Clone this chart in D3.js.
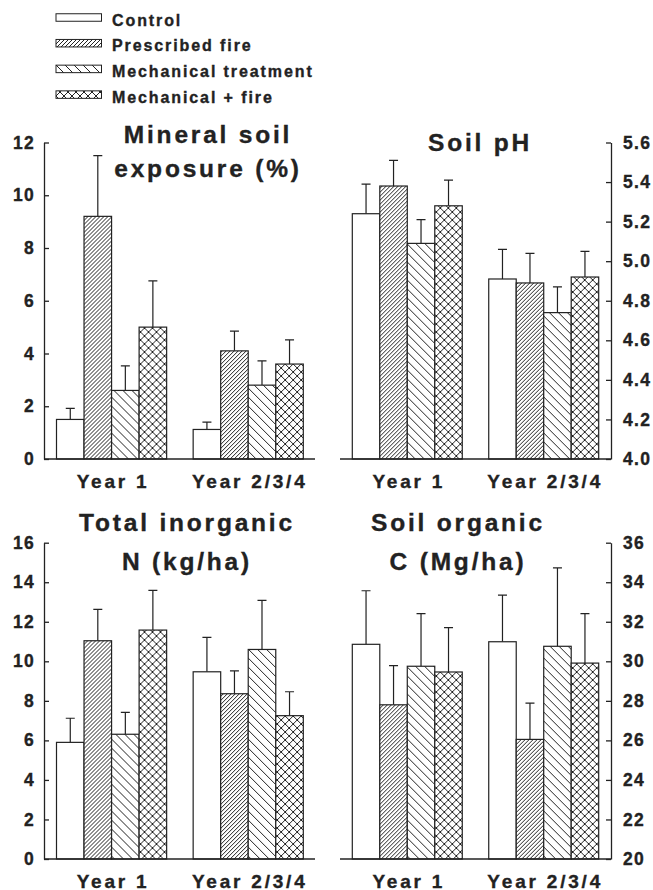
<!DOCTYPE html>
<html>
<head>
<meta charset="utf-8">
<script src="https://cdn.jsdelivr.net/npm/d3@7"></script>
<style>
  body { margin: 0; background: #fff; }
  text { font-family: "Liberation Sans", Arial, sans-serif; font-weight: bold; fill: #222; stroke: #222; stroke-width: 0.35px; }
</style>
</head>
<body>
<div id="chart"></div>
<script>
const years = ["Year 1", "Year 2/3/4"];
const treatments = ["Control", "Prescribed fire", "Mechanical treatment", "Mechanical + fire"];

// means and standard errors, [year][treatment]
const mineralMean = [[1.5, 9.2, 2.6, 5.0], [1.12, 4.1, 2.8, 3.6]];
const mineralSE   = [[0.42, 2.3, 0.93, 1.75], [0.28, 0.75, 0.92, 0.92]];
const phMean = [[5.24, 5.38, 5.09, 5.28], [4.91, 4.89, 4.74, 4.92]];
const phSE   = [[0.15, 0.13, 0.12, 0.13], [0.15, 0.15, 0.13, 0.13]];
const nMean = [[5.9, 11.04, 6.31, 11.58], [9.47, 8.36, 10.6, 7.25]];
const nSE   = [[1.22, 1.59, 1.11, 2.01], [1.74, 1.16, 2.48, 1.21]];
const cMean = [[30.86, 27.8, 29.75, 29.46], [30.99, 26.05, 30.76, 29.91]];
const cSE   = [[2.71, 1.98, 2.66, 2.24], [2.36, 1.83, 3.97, 2.5]];

const mineralTicks = [0, 2, 4, 6, 8, 10, 12];
const phTicks = [4.0, 4.2, 4.4, 4.6, 4.8, 5.0, 5.2, 5.4, 5.6];
const nTicks = [0, 2, 4, 6, 8, 10, 12, 14, 16];
const cTicks = [20, 22, 24, 26, 28, 30, 32, 34, 36];

const ink = "#222";
const width = 653, height = 890;

const svg = d3.select("#chart").append("svg")
  .attr("width", width)
  .attr("height", height);

// ========= PATTERNS =========
const defs = svg.append("defs");
const fills = ["#fff", "url(#p-fire)", "url(#p-mech)", "url(#p-both)"];

const pFire = defs.append("pattern").attr("id", "p-fire")
  .attr("patternUnits", "userSpaceOnUse").attr("width", 4).attr("height", 4);
pFire.append("rect").attr("width", 4).attr("height", 4).attr("fill", "#fff");
pFire.append("path").attr("d", "M-1,1 l2,-2 M0,4 l4,-4 M3,5 l2,-2")
  .attr("stroke", ink).attr("stroke-width", 1);

const pMech = defs.append("pattern").attr("id", "p-mech")
  .attr("patternUnits", "userSpaceOnUse").attr("width", 9).attr("height", 9);
pMech.append("rect").attr("width", 9).attr("height", 9).attr("fill", "#fff");
pMech.append("path").attr("d", "M0,0 L9,9 M-2.25,6.75 L2.25,11.25 M6.75,-2.25 L11.25,2.25")
  .attr("stroke", ink).attr("stroke-width", 1);

const pBoth = defs.append("pattern").attr("id", "p-both")
  .attr("patternUnits", "userSpaceOnUse").attr("width", 8).attr("height", 8);
pBoth.append("rect").attr("width", 8).attr("height", 8).attr("fill", "#fff");
pBoth.append("path").attr("d", "M0,0 L8,8 M8,0 L0,8")
  .attr("stroke", ink).attr("stroke-width", 1);

// ========= LEGEND =========
const legend = svg.append("g");
treatments.forEach((t, i) => {
  const cy = 17.5 + i * 25.7;
  legend.append("rect")
    .attr("x", 56).attr("y", cy - 3.75)
    .attr("width", 45.5).attr("height", 7.5)
    .attr("fill", fills[i]).attr("stroke", ink).attr("stroke-width", 1);
  legend.append("text")
    .attr("x", 112).attr("y", cy + 8)
    .style("font-size", "16px")
    .style("letter-spacing", "1.9px")
    .text(t);
});

// ========= PANELS =========
const panels = [
  { mean: mineralMean, se: mineralSE, ticks: mineralTicks, fmt: d3.format("d"),
    side: "left", axisX: 44, lineX: [44, 315], barX: [56.5, 303.3],
    y0: 459, yTop: 142.5, title: ["Mineral soil", "exposure (%)"], titleX: 208, titleY: [143, 177] },
  { mean: phMean, se: phSE, ticks: phTicks, fmt: d3.format(".1f"),
    side: "right", axisX: 611, lineX: [340, 611], barX: [352.3, 598.7],
    y0: 459, yTop: 142.5, title: ["Soil pH"], titleX: 480, titleY: [151] },
  { mean: nMean, se: nSE, ticks: nTicks, fmt: d3.format("d"),
    side: "left", axisX: 44, lineX: [44, 315], barX: [56.5, 303.3],
    y0: 859, yTop: 542.7, title: ["Total inorganic", "N (kg/ha)"], titleX: 187, titleY: [531, 570] },
  { mean: cMean, se: cSE, ticks: cTicks, fmt: d3.format("d"),
    side: "right", axisX: 611, lineX: [340, 611], barX: [352.3, 598.7],
    y0: 859, yTop: 542.7, title: ["Soil organic", "C (Mg/ha)"], titleX: 458, titleY: [531, 570] }
];

panels.forEach(p => {
  const g = svg.append("g");

  const y = d3.scaleLinear()
    .domain([p.ticks[0], p.ticks[p.ticks.length - 1]])
    .range([p.y0, p.yTop]);

  const x0 = d3.scaleBand().domain(years).range(p.barX).paddingInner(0.194);
  const x1 = d3.scaleBand().domain(d3.range(treatments.length)).range([0, x0.bandwidth()]);

  // bars
  years.forEach((yr, yi) => {
    const grp = g.append("g").attr("transform", `translate(${x0(yr)},0)`);
    const rows = treatments.map((t, ti) => ({ ti, m: p.mean[yi][ti], e: p.se[yi][ti] }));

    // error bars (drawn behind bars)
    grp.selectAll(".err")
      .data(rows)
      .enter()
      .append("path")
      .attr("d", d => {
        const cx = x1(d.ti) + x1.bandwidth() / 2;
        return `M${cx},${y(d.m)}V${y(d.m + d.e)}M${cx - 4.5},${y(d.m + d.e)}H${cx + 4.5}`;
      })
      .attr("fill", "none")
      .attr("stroke", ink)
      .attr("stroke-width", 1.2);

    grp.selectAll(".bar")
      .data(rows)
      .enter()
      .append("rect")
      .attr("x", d => x1(d.ti))
      .attr("y", d => y(d.m))
      .attr("width", x1.bandwidth())
      .attr("height", d => p.y0 - y(d.m))
      .attr("fill", d => fills[d.ti])
      .attr("stroke", ink)
      .attr("stroke-width", 1.2);

    g.append("text")
      .attr("x", x0(yr) + x0.bandwidth() / 2 + 1.5)
      .attr("y", p.y0 + 28.5)
      .attr("text-anchor", "middle")
      .style("font-size", "19px")
      .style("letter-spacing", "2.8px")
      .text(yr);
  });

  // baseline
  g.append("line")
    .attr("x1", p.lineX[0]).attr("x2", p.lineX[1])
    .attr("y1", p.y0).attr("y2", p.y0)
    .attr("stroke", ink).attr("stroke-width", 1.3);

  // y axis, ticks pointing inward
  const axis = (p.side === "left" ? d3.axisLeft(y) : d3.axisRight(y))
    .tickValues(p.ticks)
    .tickFormat(p.fmt)
    .tickSizeInner(-5)
    .tickSizeOuter(0)
    .tickPadding(p.side === "left" ? 9 : 12);

  const ax = g.append("g")
    .attr("transform", `translate(${p.axisX},0)`)
    .call(axis);
  ax.select(".domain").attr("stroke", ink).attr("stroke-width", 1.3);
  ax.selectAll(".tick line").attr("stroke", ink).attr("stroke-width", 1.3);
  ax.selectAll(".tick text")
    .attr("fill", ink)
    .style("font-family", "'Liberation Sans', Arial, sans-serif")
    .style("font-weight", "bold")
    .style("font-size", "17.5px")
    .style("letter-spacing", "1.3px");

  // title
  p.title.forEach((line, i) => {
    g.append("text")
      .attr("x", p.titleX)
      .attr("y", p.titleY[i])
      .attr("text-anchor", "middle")
      .style("font-size", "24.5px")
      .style("letter-spacing", "2.8px")
      .text(line);
  });
});
</script>
</body>
</html>
